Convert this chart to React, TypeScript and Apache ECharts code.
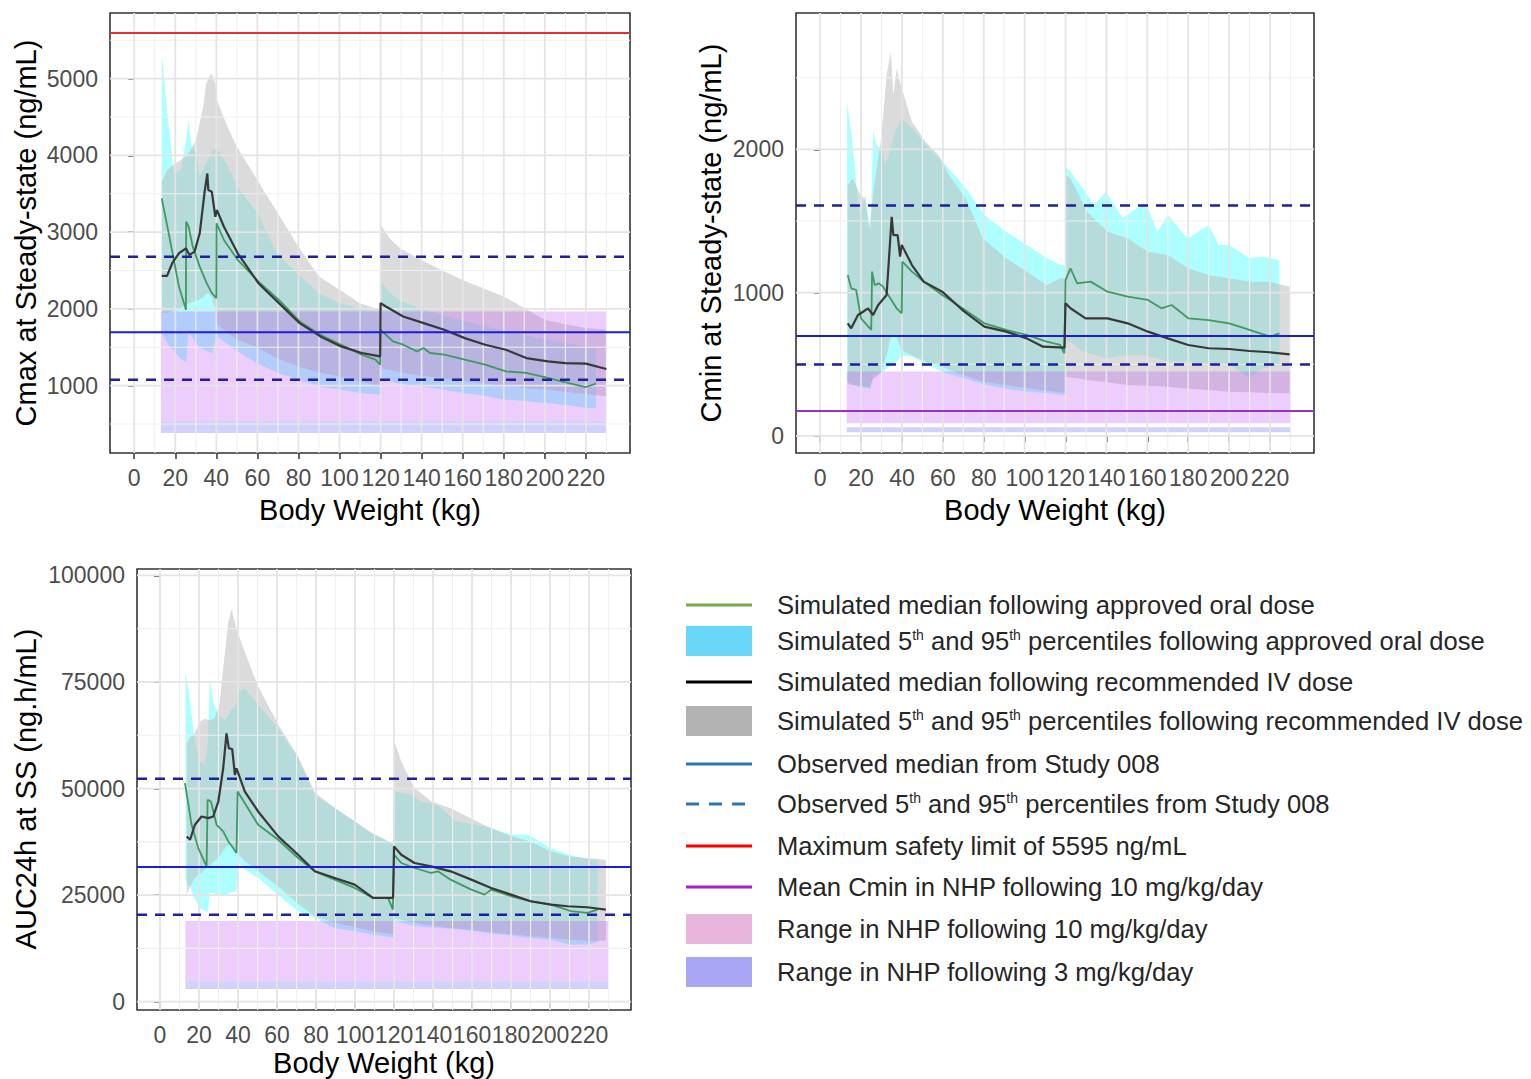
import React, { useEffect, useRef } from 'react';
import * as echarts from 'echarts';

const FONT = "'Liberation Sans', Arial, Helvetica, sans-serif";

// ---------- shared axis values ----------
const X_MIN = -11.8;
const X_MAX = 241.5;
const xMajor = [0, 20, 40, 60, 80, 100, 120, 140, 160, 180, 200, 220];
const xMinor = [10, 30, 50, 70, 90, 110, 130, 150, 170, 190, 210, 230];
const nhpX = [13, 230];

// ---------- Panel 1 : Cmax ----------
const cmaxY = [122, 5856];
const cmaxTicks = [1000, 2000, 3000, 4000, 5000];
const cmaxMinor = [500, 1500, 2500, 3500, 4500, 5500];

const cmaxOralX = [13.4, 16, 19.3, 22.7, 25.2, 26.5, 27.7, 30.2, 31.9, 35, 38, 40, 45, 50, 60, 70, 80, 90, 100, 110, 119.8, 120, 125, 130, 140, 150, 160, 170, 180, 190, 200, 210, 220, 225];
const cmaxOralHi = [5325, 4588, 3765, 3808, 4198, 4458, 4155, 4025, 3721, 3900, 4050, 4100, 3895, 3600, 3250, 2700, 2450, 2200, 2080, 2000, 1970, 2350, 2200, 2100, 2000, 1920, 1850, 1780, 1720, 1660, 1600, 1560, 1510, 1500];
const cmaxOralLo = [1700, 1550, 1450, 1350, 1300, 1700, 1650, 1550, 1500, 1450, 1420, 1650, 1550, 1450, 1290, 1160, 1080, 990, 950, 905, 880, 1100, 1050, 1020, 990, 950, 905, 870, 820, 800, 775, 750, 710, 705];

const cmaxIvX = [13.4, 16, 20, 22, 25, 27, 30, 33.6, 35, 36.5, 37.8, 39.5, 40.3, 45, 50, 60, 70, 80, 90, 100, 110, 119.8, 120, 125, 130, 140, 150, 160, 170, 180, 190, 200, 210, 220, 230];
const cmaxIvHi = [3656, 3808, 3895, 3930, 3982, 4050, 4198, 4632, 4935, 5022, 5065, 4935, 4718, 4400, 4112, 3678, 3245, 2811, 2421, 2248, 2075, 1988, 3093, 2900, 2780, 2638, 2500, 2378, 2270, 2161, 2010, 1858, 1800, 1750, 1728];
const cmaxIvLo = [1950, 1950, 1980, 2000, 2050, 2080, 2100, 2150, 2200, 2200, 2150, 2000, 1800, 1700, 1600, 1500, 1350, 1250, 1170, 1120, 1050, 1000, 1230, 1200, 1170, 1130, 1100, 1060, 1030, 1000, 970, 950, 920, 890, 860];

const cmaxOralMedX = [13.4, 16.8, 21.8, 25.2, 25.3, 26.5, 28.5, 31.9, 35.3, 37.8, 40, 40.1, 43.7, 50.4, 60.5, 70.5, 80.6, 90.7, 100.8, 110.8, 117.5, 119.8, 120, 126, 131, 137.7, 141, 144, 151, 161, 171, 181, 191, 201.5, 211.6, 220, 225];
const cmaxOralMed = [3440, 2985, 2291, 1988, 3136, 3071, 2811, 2551, 2335, 2205, 2140, 3115, 2898, 2638, 2356, 2118, 1836, 1663, 1533, 1403, 1338, 1273, 1728, 1576, 1533, 1446, 1490, 1425, 1403, 1338, 1273, 1186, 1165, 1100, 1034, 982, 1026];

const cmaxIvMedX = [13.4, 16, 18.5, 21.8, 25.2, 26.9, 29.4, 31.9, 34.4, 35.6, 36.1, 37.8, 39.5, 40.3, 43.7, 50.4, 60.5, 70.5, 80.6, 90.7, 100.8, 110.8, 119.8, 120, 122.6, 131, 141, 151, 161, 171, 181, 191, 201.5, 210, 220, 230];
const cmaxIvMed = [2430, 2430, 2595, 2725, 2790, 2703, 2746, 2985, 3548, 3765, 3548, 3526, 3201, 3288, 3071, 2725, 2335, 2075, 1815, 1641, 1511, 1425, 1381, 2075, 2031, 1901, 1815, 1728, 1619, 1533, 1468, 1359, 1316, 1294, 1286, 1216];

const cmaxSafety = 5595;
const cmaxObsMedian = 1697;
const cmaxObsP5 = 1078;
const cmaxObsP95 = 2681;
const cmaxNhp10 = [536, 1966];
const cmaxNhp3 = [383, 536];

// ---------- Panel 2 : Cmin ----------
const cminY = [-119, 2952];
const cminTicks = [0, 1000, 2000];
const cminMinor = [500, 1500, 2500];

const cminOralX = [13.2, 15.2, 17.6, 19.3, 22.1, 24.7, 25.9, 27.5, 30, 31.7, 33.3, 35, 37.5, 40, 45, 51.5, 61.4, 71.3, 80.3, 91, 101, 110.8, 117.4, 119.8, 120, 122.4, 127.3, 134, 139.7, 148, 157, 160.3, 165, 170, 176.8, 180, 190, 195, 200, 210, 216, 224.6];
const cminOralHi = [2333, 2123, 1774, 1542, 1681, 1426, 2135, 2030, 2007, 1891, 1950, 2050, 2150, 2216, 2150, 2030, 1891, 1728, 1542, 1426, 1333, 1240, 1193, 1190, 1879, 1844, 1751, 1612, 1705, 1519, 1612, 1588, 1426, 1542, 1426, 1379, 1472, 1333, 1333, 1240, 1251, 1228];
const cminOralLo = [380, 370, 350, 340, 335, 330, 420, 430, 440, 460, 480, 495, 520, 560, 555, 500, 440, 400, 360, 330, 310, 300, 290, 286, 650, 658, 600, 565, 542, 560, 565, 553, 540, 519, 519, 519, 495, 500, 500, 402, 472, 495];

const cminIvX = [13.5, 16, 19, 22, 24, 26, 28, 30, 32.5, 34.6, 35.8, 37.4, 39.9, 44.9, 51.5, 58, 63, 71.3, 79.5, 91, 101, 110.8, 117.4, 119.8, 120, 122.4, 130.6, 140.5, 150.4, 160.3, 170, 180, 190, 200, 210, 220, 229.6];
const cminIvHi = [1750, 1800, 1700, 1650, 1449, 1700, 1900, 2100, 2519, 2681, 2379, 2565, 2426, 2193, 2053, 1960, 1821, 1658, 1379, 1240, 1147, 1053, 1100, 1100, 1821, 1798, 1565, 1426, 1379, 1286, 1263, 1170, 1123, 1100, 1077, 1077, 1042];
const cminIvLo = [360, 355, 350, 345, 340, 400, 420, 450, 560, 690, 700, 690, 600, 560, 520, 490, 460, 420, 380, 355, 335, 315, 305, 300, 414, 410, 390, 375, 356, 350, 344, 330, 321, 309, 305, 300, 298];

const cminOralMedX = [13.5, 15.2, 17.6, 20, 25, 25.4, 26.7, 28.7, 30.8, 33.3, 37.4, 39.9, 40.2, 44.9, 50.6, 59.7, 69.6, 80.3, 91, 101, 110.8, 117.4, 119.4, 120, 122.4, 125.7, 132.3, 140.5, 150.4, 160.3, 166.9, 171.9, 180, 190, 200, 210, 220, 224.6];
const cminOralMed = [1123, 1030, 1019, 821, 740, 1147, 1053, 1065, 1042, 984, 891, 856, 1216, 1147, 1077, 984, 891, 786, 740, 705, 658, 635, 577, 1088, 1170, 1065, 1077, 1007, 972, 949, 891, 914, 821, 809, 786, 740, 693, 716];

const cminIvMedX = [13.5, 15.2, 18.5, 21, 23.4, 25.9, 28.4, 32.5, 35, 35.8, 37.9, 39.1, 39.9, 44.9, 50.6, 59.7, 69.6, 80.3, 91, 101, 109, 119.5, 120, 122.4, 129.8, 140.5, 150.4, 160.3, 170, 180, 190, 200, 210, 220, 229.6];
const cminIvMed = [786, 751, 844, 867, 891, 844, 914, 984, 1530, 1402, 1402, 1251, 1333, 1193, 1077, 1007, 879, 763, 728, 681, 623, 616, 926, 891, 821, 821, 786, 728, 681, 635, 612, 607, 593, 584, 570];

const cminObsMedian = 697;
const cminObsP5 = 498;
const cminObsP95 = 1608;
const cminNhpMean = 175;
const cminNhp10 = [88, 449];
const cminNhp3 = [26, 60];

// ---------- Panel 3 : AUC24h ----------
const aucY = [-1950, 101500];
const aucTicks = [0, 25000, 50000, 75000, 100000];
const aucMinor = [12500, 37500, 62500, 87500];

const aucOralX = [13.1, 15.4, 17.9, 20.5, 23, 24.4, 25.6, 27.3, 29.9, 33.3, 36, 39.2, 39.8, 43.5, 50.3, 60.6, 70.8, 79.4, 89.6, 99.8, 109.2, 119.6, 120, 128.8, 134, 142.5, 152, 162, 170, 180, 188.6, 195, 200.5, 210, 220, 224.4];
const aucOralHi = [77770, 70360, 61000, 56320, 55540, 60000, 75820, 70360, 67240, 66000, 68000, 70000, 72700, 73480, 69580, 64120, 57100, 48520, 45400, 42280, 39160, 37210, 49300, 48520, 46960, 46000, 42280, 41500, 40720, 39160, 39160, 37600, 36000, 34480, 33310, 33310];
const aucOralLo = [28500, 27000, 24000, 22000, 21200, 21000, 25500, 25500, 25000, 25100, 25500, 26000, 32900, 31000, 29000, 25100, 21200, 19650, 17300, 16500, 15750, 15000, 19000, 18000, 17600, 17300, 17000, 16500, 16000, 15500, 15000, 14700, 14500, 13400, 13500, 14000];

const aucIvX = [13.7, 15.4, 17.9, 20.5, 23, 25.6, 28, 30.5, 33.3, 35, 36.7, 39.2, 43.5, 50.3, 60.6, 70.8, 79.4, 89.6, 99.8, 109.2, 119.5, 120, 123.7, 130.5, 139, 149, 159.6, 169.8, 180, 190, 200.5, 209, 219, 228.6];
const aucIvHi = [60600, 62000, 63000, 65700, 66400, 66000, 66500, 70000, 82000, 89000, 92200, 87500, 82000, 74000, 65000, 57500, 49000, 45500, 42300, 39500, 37000, 61390, 56300, 50100, 47000, 45400, 43000, 40700, 38800, 37600, 35260, 34100, 33700, 33300];
const aucIvLo = [25100, 27000, 29000, 30000, 31000, 32000, 33000, 34000, 36000, 36800, 36800, 35000, 33000, 30600, 27000, 23000, 20000, 18500, 17500, 16500, 15800, 19500, 19200, 18600, 17800, 17300, 16800, 16300, 15800, 15400, 15000, 14600, 14300, 14300];

const aucOralMedX = [12.8, 16.2, 19.6, 23.9, 24.4, 26.1, 29, 32.4, 35, 37.5, 39.2, 39.8, 43.5, 50.3, 60.6, 70.8, 79.4, 89.6, 99.8, 109.2, 116.9, 119.4, 120, 123.7, 130.5, 139, 142.5, 149, 159.6, 166.4, 169.8, 180, 190, 200.5, 210.7, 219, 224.4];
const aucOralMed = [51250, 41500, 36040, 31750, 47350, 46960, 41500, 39940, 37600, 36040, 34870, 49300, 46570, 41500, 37990, 33700, 30580, 28630, 26680, 24340, 24340, 21610, 34480, 32530, 31360, 30190, 30580, 28630, 26290, 25120, 26290, 24730, 23560, 22780, 21220, 20830, 21610];

const aucIvMedX = [13.7, 15.4, 17.9, 21.3, 24.7, 27.3, 29.9, 32.4, 34.1, 35.3, 37, 38.4, 39.2, 43.5, 50.3, 60.6, 70.8, 79.4, 89.6, 99.8, 109.2, 119.5, 120, 123.7, 130.5, 139, 149, 159.6, 169.8, 180, 190, 200.5, 209, 219, 228.6];
const aucIvMed = [38770, 37990, 41500, 43450, 43060, 43450, 46960, 54760, 62950, 59440, 59280, 53200, 54760, 49300, 44620, 38770, 34480, 30580, 29020, 27460, 24340, 24340, 36430, 34480, 32530, 31750, 30580, 28630, 26680, 25120, 23560, 22780, 22390, 22150, 21610];

const aucObsMedian = 31600;
const aucObsP5 = 20400;
const aucObsP95 = 52300;
const aucNhp10 = [4700, 18900];
const aucNhp3 = [3000, 4700];

// ---------- titles & legend ----------
const yTitles = ['Cmax at Steady-state (ng/mL)', 'Cmin at Steady-state (ng/mL)', 'AUC24h at SS (ng.h/mL)'];
const xTitle = 'Body Weight (kg)';

const legendKinds = ['line', 'rect', 'line', 'rect', 'line', 'dash', 'line', 'line', 'rect', 'rect'];
const legendColors = ['#70ad47', '#69d7f8', '#000000', '#b3b3b3', '#2e75b6', '#2e75b6', '#ff0000', '#a21fd2', '#e8b5dc', '#aaa6f6'];
const legendTexts = [
  'Simulated median following approved oral dose',
  'Simulated 5{s|th} and 95{s|th} percentiles following approved oral dose',
  'Simulated median following recommended IV dose',
  'Simulated 5{s|th} and 95{s|th} percentiles following recommended IV dose',
  'Observed median from Study 008',
  'Observed 5{s|th} and 95{s|th} percentiles from Study 008',
  'Maximum safety limit of 5595 ng/mL',
  'Mean Cmin in NHP following 10 mg/kg/day',
  'Range in NHP following 10 mg/kg/day',
  'Range in NHP following 3 mg/kg/day',
];

// ---------- styles ----------
const CYAN = '#00ffff';
const GREY = '#bdbdbd';
const PINK = '#c04cf0';
const LAV = '#5a5af0';
const GREEN_LINE = '#3f9a5f';
const BLACK_LINE = '#383838';
const OBS_BLUE = '#1d1dd6';
const OBS_DASH = '#1f1fa0';
const RED = '#e53030';
const PURPLE = '#9932cc';

const GRIDS = [
  { left: 110, top: 13, width: 520, height: 440 },
  { left: 796, top: 13, width: 518, height: 440 },
  { left: 137, top: 569, width: 494, height: 441 },
];

function pairs(x: number[], y: number[]) {
  return x.map((v, i) => [v, y[i]]);
}

// ribbon between lo and hi, drawn as one polygon through the axis scales
function band(g: number, x: number[], lo: number[], hi: number[], color: string, opacity: number) {
  return {
    type: 'custom', xAxisIndex: g, yAxisIndex: g, silent: true, clip: true,
    data: x.map((v, i) => [v, lo[i], hi[i]]),
    encode: { x: 0, y: [1, 2] },
    renderItem: (params: any, api: any) => {
      if (params.dataIndex !== 0) return null;
      const pts: number[][] = [];
      for (let i = 0; i < x.length; i++) pts.push(api.coord([x[i], hi[i]]));
      for (let i = x.length - 1; i >= 0; i--) pts.push(api.coord([x[i], lo[i]]));
      return { type: 'polygon', shape: { points: pts }, style: { fill: color, opacity } };
    },
  };
}

function line(g: number, x: number[], y: number[], color: string, width: number, dash?: number[]) {
  return {
    type: 'line', xAxisIndex: g, yAxisIndex: g, silent: true,
    data: pairs(x, y), symbol: 'none',
    lineStyle: { color, width, type: dash ? dash : 'solid' },
  };
}

function hline(g: number, v: number, color: string, width: number, dash?: number[]) {
  return line(g, [X_MIN, X_MAX], [v, v], color, width, dash);
}

function gridLines(g: number, xs: number[], ys: number[], yr: number[], color: string, width: number) {
  const d: any[] = [];
  xs.forEach((x) => { d.push([x, yr[0]], [x, yr[1]], [x, '-']); });
  ys.forEach((y) => { d.push([X_MIN, y], [X_MAX, y], ['-', y]); });
  return {
    type: 'line', xAxisIndex: g, yAxisIndex: g, silent: true, data: d, symbol: 'none',
    connectNulls: false, lineStyle: { color, width },
  };
}

function panelSeries(
  g: number, yr: number[], yMaj: number[], yMin: number[],
  oral: number[][], iv: number[][], oralMed: number[][], ivMed: number[][],
  nhp10: number[], nhp3: number[], refs: any[],
) {
  return [
    gridLines(g, xMinor, yMin, yr, '#f0f0f0', 1.1),
    gridLines(g, xMajor, yMaj, yr, '#e4e4e4', 1.8),
    band(g, oral[0], oral[1], oral[2], CYAN, 0.32),
    band(g, iv[0], iv[1], iv[2], GREY, 0.55),
    line(g, oralMed[0], oralMed[1], GREEN_LINE, 1.8),
    line(g, ivMed[0], ivMed[1], BLACK_LINE, 2.2),
    band(g, nhpX, [nhp10[0], nhp10[0]], [nhp10[1], nhp10[1]], PINK, 0.28),
    band(g, nhpX, [nhp3[0], nhp3[0]], [nhp3[1], nhp3[1]], LAV, 0.28),
    ...refs,
  ];
}

function xAxisCfg(g: number) {
  return {
    type: 'value', gridIndex: g, min: X_MIN, max: X_MAX,
    axisLine: { show: false }, splitLine: { show: false }, minorSplitLine: { show: false },
    axisTick: { show: true, customValues: xMajor, length: 6, lineStyle: { color: '#333333', width: 1.5 } },
    axisLabel: { customValues: xMajor, color: '#4d4d4d', fontSize: 23, fontFamily: FONT, margin: 13, hideOverlap: false, formatter: (v: number) => String(v) },
  };
}

function yAxisCfg(g: number, yr: number[], ticks: number[]) {
  return {
    type: 'value', gridIndex: g, min: yr[0], max: yr[1],
    axisLine: { show: false }, splitLine: { show: false }, minorSplitLine: { show: false },
    axisTick: { show: true, customValues: ticks, length: 6, lineStyle: { color: '#333333', width: 1.5 } },
    axisLabel: { customValues: ticks, color: '#4d4d4d', fontSize: 23, fontFamily: FONT, margin: 12, hideOverlap: false, formatter: (v: number) => String(v) },
  };
}

function buildGraphic() {
  const els: any[] = [];
  const titlePos = [
    { x: 26, y: 233 }, { x: 711, y: 233 }, { x: 26, y: 789 },
  ];
  yTitles.forEach((t, i) => {
    els.push({
      type: 'text', x: titlePos[i].x, y: titlePos[i].y, rotation: Math.PI / 2, silent: true,
      style: { text: t, fontSize: 29, fontFamily: FONT, fill: '#000', align: 'center', verticalAlign: 'middle' },
    });
  });
  const xtPos = [{ x: 370, y: 510 }, { x: 1055, y: 510 }, { x: 384, y: 1063 }];
  xtPos.forEach((p) => {
    els.push({
      type: 'text', x: p.x, y: p.y, silent: true,
      style: { text: xTitle, fontSize: 29, fontFamily: FONT, fill: '#000', align: 'center', verticalAlign: 'middle' },
    });
  });
  const rowY = [605, 641, 682, 721, 764, 804, 846, 887, 929, 972];
  const kx0 = 686, kx1 = 752, tx = 777;
  legendTexts.forEach((t, i) => {
    const y = rowY[i];
    const k = legendKinds[i];
    const c = legendColors[i];
    if (k === 'rect') {
      els.push({ type: 'rect', silent: true, shape: { x: kx0, y: y - 15, width: kx1 - kx0, height: 30 }, style: { fill: c } });
    } else {
      els.push({
        type: 'line', silent: true, shape: { x1: kx0, y1: y, x2: kx1, y2: y },
        style: { stroke: c, lineWidth: 3, lineDash: k === 'dash' ? [13, 10] : null },
      });
    }
    els.push({
      type: 'text', x: tx, y, silent: true,
      style: {
        text: t, fontSize: 25.6, fontFamily: FONT, fill: '#262626', align: 'left', verticalAlign: 'middle', lineHeight: 26,
        rich: { s: { fontSize: 14, fontFamily: FONT, fill: '#262626', verticalAlign: 'top', lineHeight: 14 } },
      },
    });
  });
  return els;
}

export default function App() {
  const ref = useRef<HTMLDivElement>(null);
  useEffect(() => {
    if (!ref.current) return;
    const chart = echarts.init(ref.current, null, { renderer: 'svg' });
    const option: any = {
      animation: false,
      backgroundColor: '#ffffff',
      grid: GRIDS.map((g) => ({
        ...g, show: true, borderColor: '#333333', borderWidth: 1.6, backgroundColor: 'transparent',
        containLabel: false, outerBoundsMode: 'none',
      })),
      xAxis: [xAxisCfg(0), xAxisCfg(1), xAxisCfg(2)],
      yAxis: [yAxisCfg(0, cmaxY, cmaxTicks), yAxisCfg(1, cminY, cminTicks), yAxisCfg(2, aucY, aucTicks)],
      series: [
        ...panelSeries(0, cmaxY, cmaxTicks, cmaxMinor,
          [cmaxOralX, cmaxOralLo, cmaxOralHi], [cmaxIvX, cmaxIvLo, cmaxIvHi],
          [cmaxOralMedX, cmaxOralMed], [cmaxIvMedX, cmaxIvMed], cmaxNhp10, cmaxNhp3,
          [
            hline(0, cmaxSafety, RED, 2),
            hline(0, cmaxObsMedian, OBS_BLUE, 2),
            hline(0, cmaxObsP5, OBS_DASH, 2.5, [10, 8]),
            hline(0, cmaxObsP95, OBS_DASH, 2.5, [10, 8]),
          ]),
        ...panelSeries(1, cminY, cminTicks, cminMinor,
          [cminOralX, cminOralLo, cminOralHi], [cminIvX, cminIvLo, cminIvHi],
          [cminOralMedX, cminOralMed], [cminIvMedX, cminIvMed], cminNhp10, cminNhp3,
          [
            hline(1, cminNhpMean, PURPLE, 2),
            hline(1, cminObsMedian, OBS_BLUE, 2),
            hline(1, cminObsP5, OBS_DASH, 2.5, [10, 8]),
            hline(1, cminObsP95, OBS_DASH, 2.5, [10, 8]),
          ]),
        ...panelSeries(2, aucY, aucTicks, aucMinor,
          [aucOralX, aucOralLo, aucOralHi], [aucIvX, aucIvLo, aucIvHi],
          [aucOralMedX, aucOralMed], [aucIvMedX, aucIvMed], aucNhp10, aucNhp3,
          [
            hline(2, aucObsMedian, OBS_BLUE, 2),
            hline(2, aucObsP5, OBS_DASH, 2.5, [10, 8]),
            hline(2, aucObsP95, OBS_DASH, 2.5, [10, 8]),
          ]),
      ],
      graphic: buildGraphic(),
    };
    chart.setOption(option);
    return () => chart.dispose();
  }, []);
  return (
    <div
      ref={ref}
      style={{ position: 'fixed', left: 0, top: 0, width: 1531, height: 1079, background: '#fff' }}
    />
  );
}
